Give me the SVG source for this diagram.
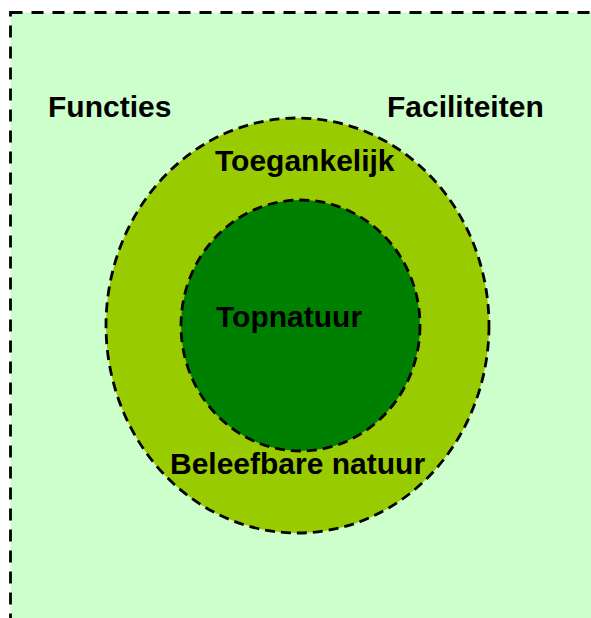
<svg xmlns="http://www.w3.org/2000/svg" width="591" height="618" viewBox="0 0 591 618">
<style>
.lbl{font-family:"Liberation Sans",Arial,sans-serif;font-weight:bold;font-size:30px;fill:#000}
.dash{stroke:#000;stroke-width:2.8;stroke-dasharray:10 6}
</style>
<rect width="591" height="618" fill="#ffffff"/>
<g id="functies-facilities">
<rect x="10.5" y="12.5" width="600" height="620" fill="#CCFFCC" stroke="#000" stroke-width="2.8" stroke-dasharray="12 9"/>
<text class="lbl" x="48" y="116.5">Functies</text>
<text class="lbl" x="387" y="116.5">Faciliteiten</text>
</g>
<g id="beleefbare-natuur">
<ellipse class="dash" cx="297.5" cy="325.5" rx="191.5" ry="207.5" fill="#99CC00"/>
<text class="lbl" x="215" y="171">Toegankelijk</text>
<text class="lbl" x="170" y="474">Beleefbare natuur</text>
</g>
<g id="topnatuur">
<ellipse class="dash" cx="300.5" cy="325.5" rx="119.5" ry="125.5" fill="#008000"/>
<text class="lbl" x="216" y="327">Topnatuur</text>
</g>
<g id="connectors"/>
</svg>
